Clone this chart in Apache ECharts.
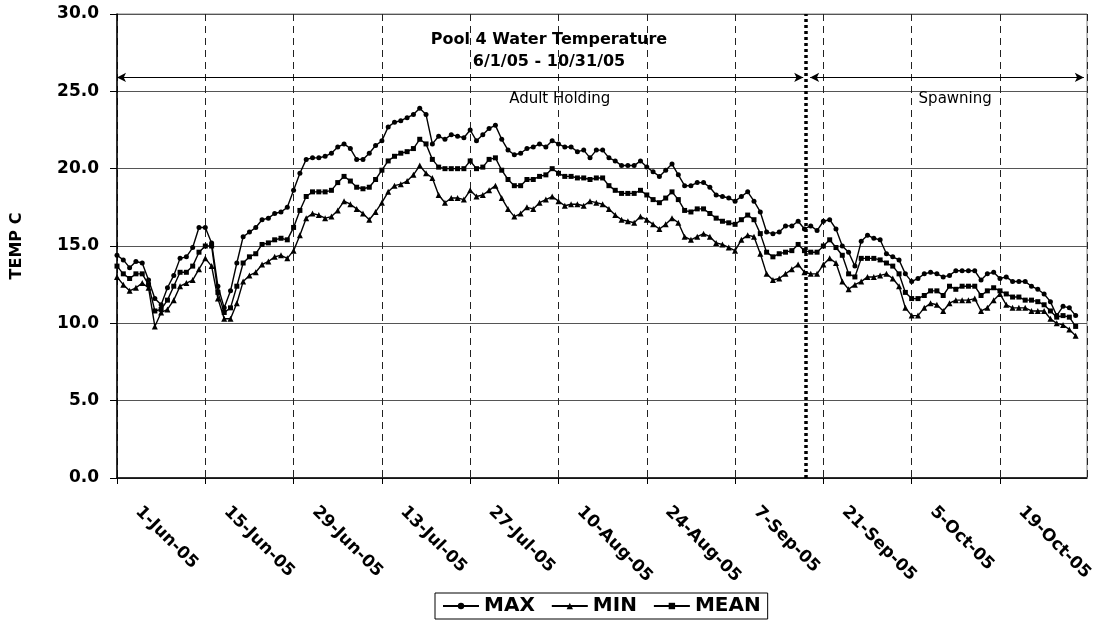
<!DOCTYPE html>
<html><head><meta charset="utf-8">
<script src="https://cdn.jsdelivr.net/npm/echarts@6/dist/echarts.min.js"></script>
<style>html,body{margin:0;padding:0;background:#fff}#c{width:1097px;height:625px}</style>
</head><body><div id="c"></div>
<script>
// Day index 0 = 1-Jun-05 ... 152 = 31-Oct-05
const tickLabels = ['1-Jun-05','15-Jun-05','29-Jun-05','13-Jul-05','27-Jul-05','10-Aug-05','24-Aug-05','7-Sep-05','21-Sep-05','5-Oct-05','19-Oct-05'];
const seriesNames = ['MAX','MIN','MEAN'];
const maxTemp = [
 14.4,14.1,13.6,14.0,13.9,12.8,11.6,11.2,12.3,13.1,
 14.2,14.3,14.9,16.2,16.2,15.2,12.4,11.0,12.1,13.9,
 15.6,15.9,16.2,16.7,16.8,17.1,17.2,17.5,18.6,19.7,
 20.6,20.7,20.7,20.8,21.0,21.4,21.6,21.3,20.6,20.6,
 21.0,21.5,21.8,22.7,23.0,23.1,23.3,23.5,23.9,23.5,
 21.6,22.1,21.9,22.2,22.1,22.0,22.5,21.8,22.2,22.6,
 22.8,21.9,21.2,20.9,21.0,21.3,21.4,21.6,21.4,21.8,
 21.6,21.4,21.4,21.1,21.2,20.7,21.2,21.2,20.7,20.5,
 20.2,20.2,20.2,20.5,20.1,19.8,19.5,19.9,20.3,19.6,
 18.9,18.9,19.1,19.1,18.8,18.3,18.2,18.1,17.9,18.2,
 18.5,17.9,17.2,15.9,15.8,15.9,16.3,16.3,16.6,16.1,
 16.3,16.0,16.6,16.7,16.1,15.0,14.6,13.7,15.3,15.7,
 15.5,15.4,14.5,14.3,14.1,13.2,12.7,12.9,13.2,13.3,
 13.2,13.0,13.1,13.4,13.4,13.4,13.4,12.8,13.2,13.3,
 12.9,13.0,12.7,12.7,12.7,12.4,12.2,11.9,11.4,10.5,
 11.1,11.0,10.5
];
const minTemp = [
 13.0,12.5,12.1,12.3,12.6,12.3,9.8,10.7,10.9,11.5,
 12.4,12.6,12.8,13.5,14.2,13.7,11.6,10.3,10.3,11.3,
 12.7,13.1,13.3,13.8,14.0,14.3,14.4,14.2,14.7,15.7,
 16.8,17.1,17.0,16.8,16.9,17.3,17.9,17.7,17.4,17.1,
 16.7,17.2,17.8,18.5,18.9,19.0,19.2,19.6,20.2,19.7,
 19.4,18.3,17.8,18.1,18.1,18.0,18.6,18.2,18.3,18.6,
 18.9,18.1,17.4,16.9,17.1,17.5,17.4,17.8,18.0,18.2,
 17.9,17.6,17.7,17.7,17.6,17.9,17.8,17.7,17.4,17.0,
 16.7,16.6,16.5,16.9,16.7,16.4,16.1,16.4,16.8,16.5,
 15.6,15.4,15.6,15.8,15.6,15.2,15.1,14.9,14.7,15.4,
 15.7,15.6,14.5,13.2,12.8,12.9,13.2,13.5,13.8,13.3,
 13.2,13.2,13.8,14.2,13.9,12.7,12.2,12.5,12.7,13.0,
 13.0,13.1,13.2,12.9,12.4,11.0,10.5,10.5,11.0,11.3,
 11.2,10.8,11.3,11.5,11.5,11.5,11.6,10.8,11.0,11.5,
 11.9,11.2,11.0,11.0,11.0,10.8,10.8,10.8,10.3,10.0,
 9.9,9.6,9.2
];
const meanTemp = [
 13.7,13.2,12.9,13.2,13.2,12.5,10.8,10.9,11.5,12.4,
 13.3,13.3,13.7,14.6,15.0,15.0,12.0,10.7,11.0,12.4,
 13.9,14.3,14.5,15.1,15.2,15.4,15.5,15.4,16.2,17.3,
 18.2,18.5,18.5,18.5,18.6,19.1,19.5,19.2,18.8,18.7,
 18.8,19.3,19.9,20.5,20.8,21.0,21.1,21.3,21.9,21.6,
 20.6,20.1,20.0,20.0,20.0,20.0,20.5,20.0,20.1,20.6,
 20.7,19.9,19.3,18.9,18.9,19.3,19.3,19.5,19.6,20.0,
 19.7,19.5,19.5,19.4,19.4,19.3,19.4,19.4,18.9,18.6,
 18.4,18.4,18.4,18.6,18.3,18.0,17.8,18.1,18.5,18.0,
 17.3,17.2,17.4,17.4,17.1,16.8,16.6,16.5,16.4,16.7,
 17.0,16.7,15.8,14.6,14.3,14.5,14.6,14.7,15.1,14.7,
 14.6,14.6,15.0,15.4,14.9,14.4,13.2,13.0,14.2,14.2,
 14.2,14.1,13.9,13.7,13.2,12.0,11.6,11.6,11.8,12.1,
 12.1,11.8,12.4,12.2,12.4,12.4,12.4,11.8,12.1,12.3,
 12.1,11.9,11.7,11.7,11.5,11.5,11.4,11.2,10.8,10.4,
 10.5,10.4,9.8
];
// annotation positions (day index / temperature)
const splitDay = 109.2;
const arrowTemp = 25.9;
const phaseArrows = [[0, 108.8], [109.9, 153.3]];
const phaseLabels = [['Adult Holding', 70.2, 24.5], ['Spawning', 132.9, 24.5]];

const chart = echarts.init(document.getElementById('c'), null, {renderer: 'canvas'});
const blk = '#000';
const lbl = {fontFamily: 'DejaVu Sans', fontWeight: 'bold', color: blk};
function mkSeries(name, data, symbol, size, extra) {
  return Object.assign({
    name, type: 'line', data: data.map((v, i) => [i, v]),
    symbol, symbolSize: size, showAllSymbol: true,
    lineStyle: {color: blk, width: 1.4}, itemStyle: {color: blk},
    emphasis: {disabled: true}
  }, extra || {});
}
const option = {
  animation: false,
  backgroundColor: '#fff',
  title: {
    text: 'Pool 4 Water Temperature\n6/1/05 - 10/31/05',
    left: 549, top: 29, padding: 0, textAlign: 'center',
    textStyle: Object.assign({}, lbl, {fontSize: 16, lineHeight: 22})
  },
  legend: {
    data: seriesNames, left: 435, top: 593,
    borderColor: blk, borderWidth: 1, padding: [3, 7, 3, 7],
    itemWidth: 36, itemHeight: 8, itemGap: 16,
    textStyle: Object.assign({}, lbl, {fontSize: 20})
  },
  grid: {left: 117, top: 14, width: 970, height: 464, show: true, borderColor: '#808080', borderWidth: 1},
  xAxis: {
    type: 'value', min: 0, max: 153.8, interval: 14,
    axisLine: {show: true, onZero: false, lineStyle: {color: blk, width: 1.5}},
    axisTick: {show: true, length: 6, lineStyle: {color: blk}},
    splitLine: {show: true, lineStyle: {color: '#222', type: [7, 5], width: 1}},
    axisLabel: Object.assign({}, lbl, {rotate: -45, margin: 10, fontSize: 17, padding: [0, 0, 0, 30], showMaxLabel: false,
      formatter: v => tickLabels[Math.round(v / 14)] || ''})
  },
  yAxis: {
    type: 'value', min: 0, max: 30, interval: 5,
    name: 'TEMP C', nameLocation: 'middle', nameGap: 92,
    nameTextStyle: Object.assign({}, lbl, {fontSize: 16}),
    axisLine: {show: true, lineStyle: {color: blk, width: 1.5}},
    axisTick: {show: true, length: 7, lineStyle: {color: blk}},
    splitLine: {show: true, lineStyle: {color: '#555', width: 1}},
    axisLabel: Object.assign({}, lbl, {fontSize: 17, margin: 18, formatter: v => v.toFixed(1)})
  },
  series: [
    mkSeries('MAX', maxTemp, 'circle', 5, {
      markLine: {
        silent: true, animation: false, symbol: ['none', 'none'], label: {show: false},
        data: [
          {xAxis: splitDay, lineStyle: {color: blk, width: 3.5, type: [3, 3]}},
          ...phaseArrows.map(a => [
            {coord: [a[0], arrowTemp], symbol: 'arrow', symbolSize: [7, 9], lineStyle: {color: blk, width: 1.2, type: 'solid'}},
            {coord: [a[1], arrowTemp], symbol: 'arrow', symbolSize: [7, 9]}
          ])
        ]
      },
      markPoint: {
        silent: true, animation: false, symbol: 'rect', symbolSize: 1,
        itemStyle: {color: 'rgba(0,0,0,0)'},
        label: {show: true, position: 'inside', formatter: '{b}', fontFamily: 'DejaVu Sans', fontSize: 15, color: blk},
        data: phaseLabels.map(p => ({name: p[0], coord: [p[1], p[2]]}))
      }
    }),
    mkSeries('MIN', minTemp, 'triangle', 6),
    mkSeries('MEAN', meanTemp, 'rect', 5)
  ]
};
chart.setOption(option);
</script></body></html>
